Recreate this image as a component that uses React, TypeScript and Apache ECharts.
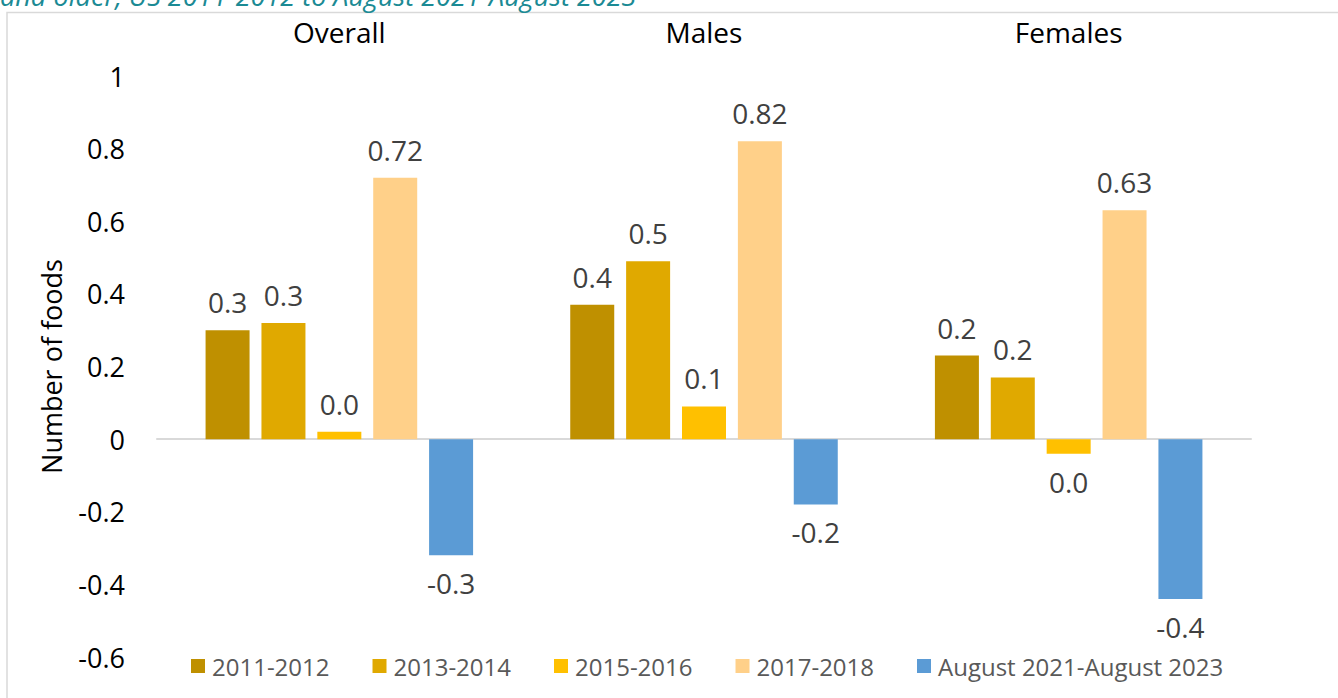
import React, { useEffect, useRef } from "react";
import * as echarts from "echarts";

const categories = ["Overall", "Males", "Females"];
const seriesNames = ["2011-2012", "2013-2014", "2015-2016", "2017-2018", "August 2021-August 2023"];
const values2011 = [0.30, 0.37, 0.23];
const values2013 = [0.32, 0.49, 0.17];
const values2015 = [0.02, 0.09, -0.04];
const values2017 = [0.72, 0.82, 0.63];
const values2021 = [-0.32, -0.18, -0.44];
const labelDecimals = [1, 1, 1, 2, 1];
const colors = ["#BF9000", "#E0A900", "#FFC000", "#FFD089", "#5B9BD5"];
const yTicks = { min: -0.6, max: 1, interval: 0.2 };
const titleTail = "and older, US 2011-2012 to August 2021-August 2023";

const FONT = "'Open Sans', sans-serif";

export default function App() {
  const ref = useRef<HTMLDivElement>(null);
  useEffect(() => {
    if (!ref.current) return;
    const chart = echarts.init(ref.current, null, { renderer: "svg" });
    const allValues = [values2011, values2013, values2015, values2017, values2021];
    const fmt = (v: number, d: number) => {
      let s = v.toFixed(d);
      if (/^-0\.0+$/.test(s)) s = s.slice(1);
      return s;
    };
    chart.setOption({
      animation: false,
      textStyle: { fontFamily: FONT },
      graphic: [
        {
          type: "rect",
          shape: { x: 7, y: 12.5, width: 1400, height: 800 },
          style: { fill: "none", stroke: "#D9D9D9", lineWidth: 1.5 },
          silent: true,
        },
        {
          type: "text",
          x: 0,
          y: 9,
          style: {
            text: titleTail,
            fill: "#1B8A94",
            font: "italic 27px 'Open Sans', sans-serif",
            verticalAlign: "bottom",
            align: "left",
          },
          silent: true,
        },
      ],
      legend: {
        left: 191,
        top: 654,
        padding: 0,
        itemWidth: 14,
        itemHeight: 14,
        itemGap: 43,
        icon: "rect",
        textStyle: { color: "#595959", fontSize: 24, fontFamily: FONT, padding: [0, 0, 0, 2] },
        data: seriesNames,
      },
      grid: { left: 157, right: 87, top: 76, bottom: 41, containLabel: false },
      xAxis: [
        {
          type: "category",
          data: categories,
          position: "top",
          axisLine: { show: false, onZero: false },
          axisTick: { show: false },
          axisLabel: { color: "#000000", fontSize: 28, margin: 30, fontFamily: FONT },
        },
        {
          type: "category",
          data: categories,
          position: "bottom",
          axisLine: { show: true, onZero: true, lineStyle: { color: "#D9D9D9", width: 2 } },
          axisTick: { show: false },
          axisLabel: { show: false },
        },
      ],
      yAxis: {
        type: "value",
        min: yTicks.min,
        max: yTicks.max,
        interval: yTicks.interval,
        name: "Number of foods",
        nameLocation: "middle",
        nameGap: 92,
        nameTextStyle: { color: "#000000", fontSize: 27, fontFamily: FONT },
        axisLine: { show: false },
        axisTick: { show: false },
        splitLine: { show: false },
        axisLabel: {
          color: "#000000",
          fontSize: 27,
          margin: 32,
          fontFamily: FONT,
          formatter: (v: number) => {
            const r = Math.round(v * 10) / 10;
            return r === 0 ? "0" : String(r);
          },
        },
      },
      series: seriesNames.map((name, i) => ({
        name,
        type: "bar",
        xAxisIndex: 0,
        barWidth: 44,
        barGap: "27%",
        itemStyle: { color: colors[i] },
        label: {
          show: true,
          position: "top",
          distance: 14,
          color: "#404040",
          fontSize: 28,
          fontFamily: FONT,
          formatter: (p: any) => fmt(p.value, labelDecimals[i]),
        },
        data: allValues[i].map((v) => ({
          value: v,
          label: v < 0 ? { position: "bottom" } : undefined,
        })),
      })),
    });
    return () => chart.dispose();
  }, []);
  return (
    <div
      ref={ref}
      style={{ position: "absolute", left: 0, top: 0, width: 1338, height: 698, background: "#fff" }}
    />
  );
}
